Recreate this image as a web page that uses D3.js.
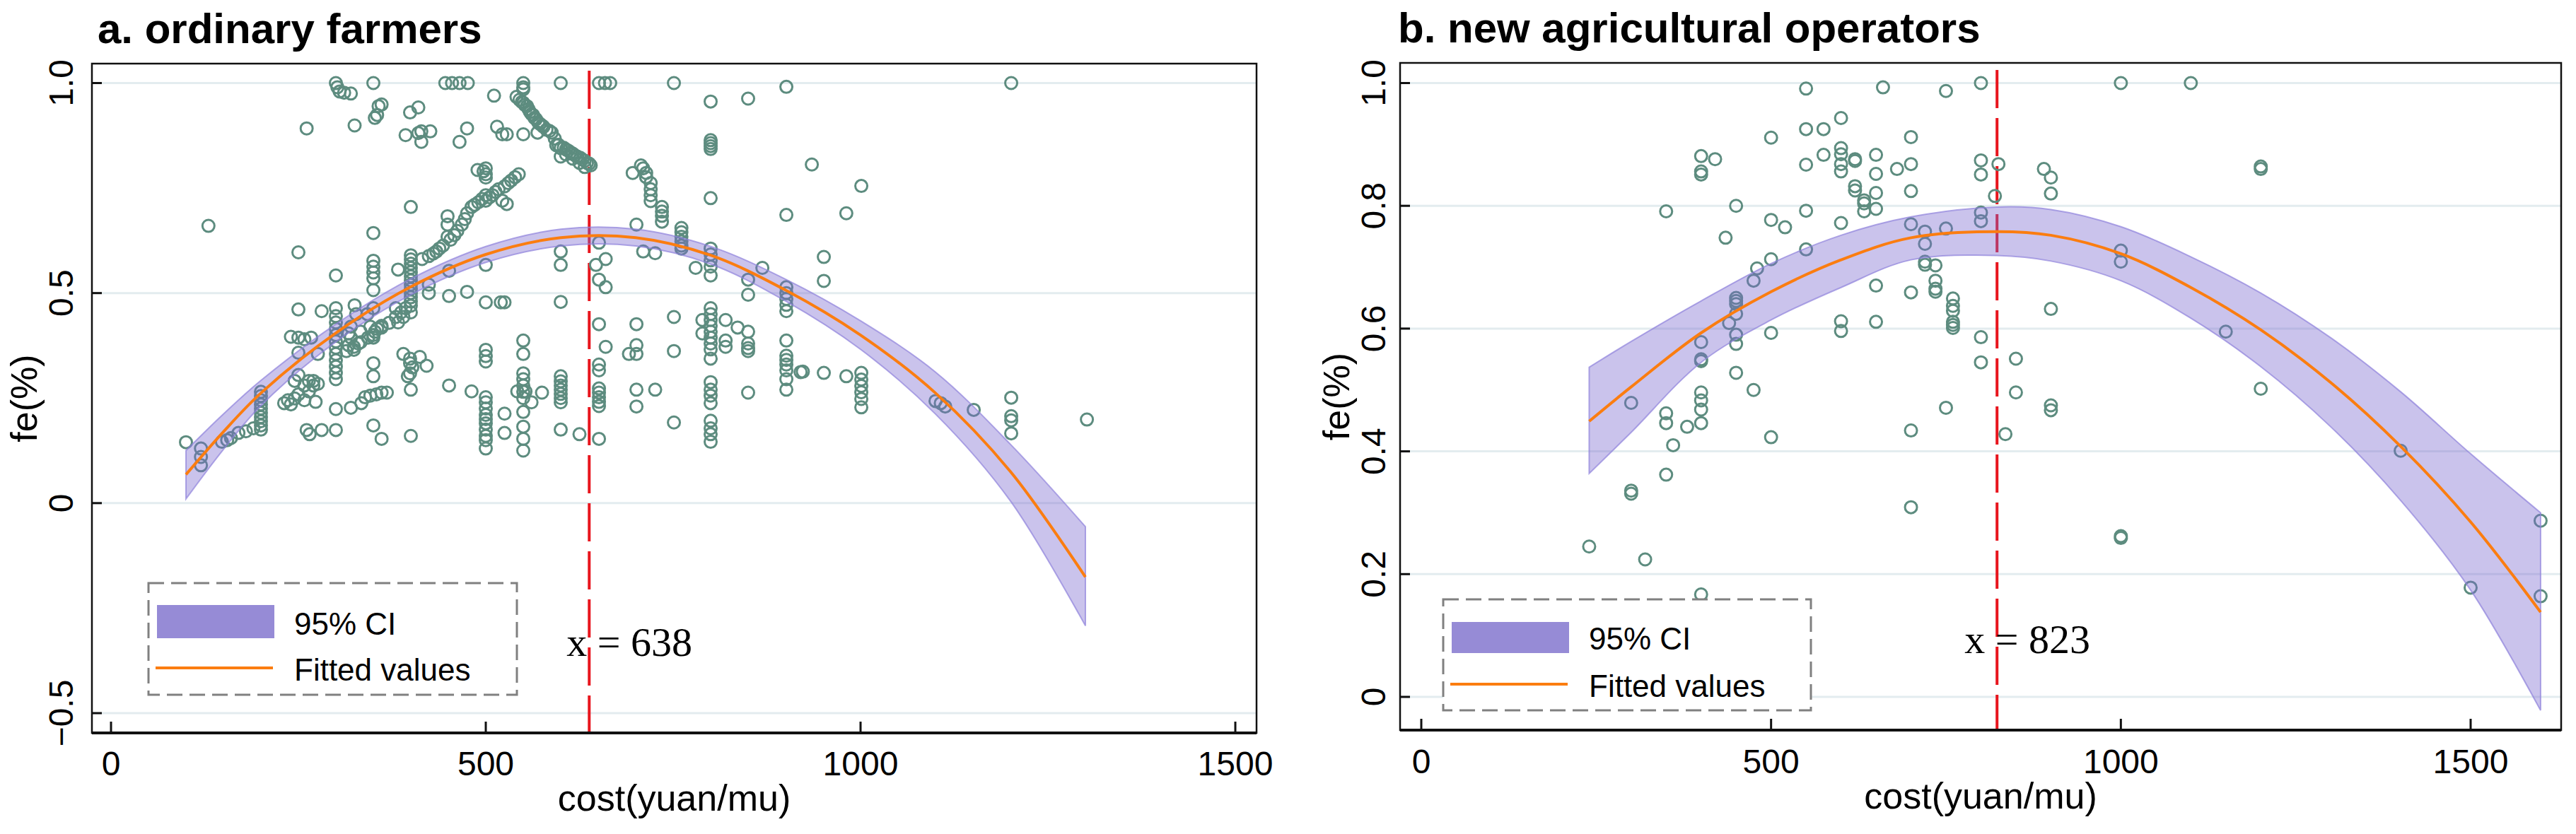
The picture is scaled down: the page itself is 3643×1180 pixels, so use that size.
<!DOCTYPE html>
<html>
<head>
<meta charset="utf-8">
<script src="https://cdn.jsdelivr.net/npm/d3@7"></script>
<style>
body { margin: 0; background: #fff; }
svg { display: block; }
</style>
</head>
<body>
<div id="chart"></div>
<script>
// values
var xTicks = [0, 500, 1000, 1500];
var yTicksA = [-0.5, 0, 0.5, 1];
var yTickLabelsA = ["\u22120.5", "0", "0.5", "1.0"];
var yTicksB = [0, 0.2, 0.4, 0.6, 0.8, 1];
var yTickLabelsB = ["0", "0.2", "0.4", "0.6", "0.8", "1.0"];
var turnA = 638;
var turnB = 823;

// [cost, [fe values at that cost]]
var farmers = [
	[100, [0.145]], [120, [0.13, 0.11, 0.09]], [130, [0.66]], [148, [0.146]], [155, [0.15]],
	[160, [0.155]], [170, [0.167]], [180, [0.171]], [190, [0.178]],
	[200, [0.175, 0.185, 0.195, 0.205, 0.215, 0.225, 0.235, 0.245, 0.255, 0.265]],
	[231, [0.238]], [236, [0.245]], [240, [0.235, 0.396]], [245, [0.249, 0.291]],
	[250, [0.259, 0.305, 0.358, 0.394, 0.461, 0.597]], [258, [0.245, 0.28, 0.39]],
	[261, [0.174, 0.892]], [264, [0.266, 0.291]], [265, [0.164]], [267, [0.394]],
	[270, [0.28, 0.291]], [273, [0.241]], [276, [0.284, 0.355]], [281, [0.174, 0.457]],
	[300, [1.0, 0.542, 0.464, 0.445, 0.43, 0.415, 0.40, 0.385, 0.37, 0.355, 0.34, 0.325, 0.31, 0.295, 0.224, 0.174]],
	[302, [0.99]], [305, [0.98]], [311, [0.977]], [314, [0.362]], [317, [0.404, 0.376]],
	[320, [0.975, 0.394, 0.42, 0.227]], [324, [0.372, 0.365]], [325, [0.899, 0.471]],
	[327, [0.45]], [330, [0.38]], [333, [0.383, 0.408]], [334, [0.238]], [339, [0.252]],
	[342, [0.45]], [343, [0.394]], [346, [0.256, 0.42]],
	[350, [1.0, 0.643, 0.577, 0.563, 0.549, 0.535, 0.507, 0.464, 0.40, 0.394, 0.333, 0.302, 0.185]],
	[352, [0.917, 0.408]], [354, [0.259]], [355, [0.924, 0.415]], [357, [0.945]],
	[361, [0.949, 0.418, 0.422, 0.263, 0.153]], [368, [0.263]], [371, [0.429]],
	[380, [0.443, 0.464]], [383, [0.556, 0.43]], [387, [0.454]], [390, [0.355, 0.443]],
	[393, [0.464, 0.876]], [396, [0.302]], [399, [0.93, 0.344, 0.309, 0.333]],
	[400, [0.705, 0.59, 0.58, 0.57, 0.56, 0.55, 0.54, 0.53, 0.52, 0.51, 0.50, 0.49, 0.48, 0.47, 0.454, 0.27, 0.16]],
	[402, [0.323]], [410, [0.881, 0.942]], [412, [0.348]], [414, [0.86, 0.885]], [415, [0.581]],
	[421, [0.327]], [424, [0.588, 0.52, 0.50]], [426, [0.885]], [430, [0.594]], [434, [0.599]],
	[438, [0.606]], [443, [0.613]], [446, [1.0]], [449, [0.683, 0.663, 0.634]],
	[451, [0.553, 0.493, 0.28]], [453, [0.627]], [455, [1.0]], [458, [0.638]], [462, [0.648]],
	[465, [0.86, 1.0]], [468, [0.663]], [472, [0.676]], [475, [0.69, 0.892, 0.503]], [476, [1.0]],
	[481, [0.705, 0.266]], [485, [0.71]], [489, [0.793]], [490, [0.716]], [495, [0.724]], [497, [0.79]],
	[500, [0.733, 0.775, 0.797, 0.783, 0.72, 0.567, 0.478, 0.365, 0.35, 0.337, 0.252, 0.24, 0.225, 0.21, 0.2, 0.19, 0.175, 0.16, 0.15, 0.13]],
	[505, [0.728]], [509, [0.733]], [511, [0.97]], [513, [0.741]], [515, [0.896]], [517, [0.747]],
	[520, [0.478]], [522, [0.878, 0.72]], [525, [0.754, 0.478, 0.213, 0.167]], [528, [0.878, 0.712]],
	[530, [0.762]], [534, [0.768]], [539, [0.776]], [541, [0.967]], [542, [0.266]], [544, [0.783]],
	[545, [0.96]], [548, [0.955]],
	[550, [1.0, 0.99, 0.985, 0.953, 0.878, 0.387, 0.355, 0.309, 0.295, 0.28, 0.265, 0.25, 0.217, 0.182, 0.153, 0.125]],
	[552, [0.948]], [553, [0.266]], [555, [0.945]], [557, [0.938]], [559, [0.931]], [561, [0.24, 0.926]],
	[563, [0.924]], [565, [0.917]], [567, [0.914]], [569, [0.882]], [570, [0.906]], [572, [0.903]],
	[575, [0.263, 0.899]], [577, [0.896]], [581, [0.889]], [585, [0.886]], [588, [0.882]],
	[592, [0.868]], [594, [0.852]], [597, [0.853]],
	[600, [1.0, 0.845, 0.825, 0.599, 0.567, 0.479, 0.302, 0.29, 0.28, 0.27, 0.26, 0.25, 0.24, 0.175]],
	[604, [0.846]], [607, [0.842, 0.83]], [610, [0.839]], [613, [0.835]], [616, [0.832, 0.82]],
	[619, [0.828]], [622, [0.825]], [625, [0.164, 0.81]], [626, [0.822]], [629, [0.818]],
	[632, [0.815, 0.80]], [635, [0.81]], [638, [0.808]], [640, [0.804]], [647, [0.567]],
	[651, [1.0, 0.62, 0.532, 0.426, 0.33, 0.316, 0.273, 0.263, 0.252, 0.241, 0.231, 0.153]],
	[659, [1.0]], [660, [0.581, 0.514, 0.372]], [666, [1.0]], [691, [0.355]], [696, [0.786]],
	[701, [0.663, 0.426, 0.376, 0.355, 0.27, 0.23]], [707, [0.804]], [710, [0.797, 0.599]],
	[714, [0.786, 0.776]], [720, [0.762, 0.747, 0.733, 0.719]], [726, [0.27, 0.595]],
	[735, [0.705, 0.694, 0.684, 0.67]], [751, [1.0, 0.443, 0.362, 0.192]],
	[761, [0.655, 0.645, 0.634, 0.623, 0.613, 0.606]], [780, [0.56]], [789, [0.436, 0.404]],
	[800, [0.956, 0.864, 0.857, 0.85, 0.843, 0.726, 0.606, 0.592, 0.578, 0.563, 0.542, 0.464, 0.45, 0.436, 0.422, 0.408, 0.394, 0.38, 0.366, 0.344, 0.288, 0.27, 0.256, 0.238, 0.196, 0.178, 0.164, 0.146]],
	[820, [0.436, 0.387, 0.372]], [836, [0.418]],
	[850, [0.963, 0.532, 0.496, 0.408, 0.38, 0.369, 0.362, 0.263]], [869, [0.56]],
	[901, [0.991, 0.686, 0.514, 0.5, 0.486, 0.472, 0.457, 0.387, 0.351, 0.341, 0.33, 0.316, 0.295, 0.27]],
	[920, [0.312]], [923, [0.313]], [935, [0.806]], [951, [0.586, 0.529, 0.31]], [981, [0.69, 0.302]],
	[1001, [0.755, 0.31, 0.294, 0.279, 0.264, 0.248, 0.228]],
	[1100, [0.243]], [1107, [0.238]], [1113, [0.23]], [1151, [0.222]],
	[1201, [1.0, 0.251, 0.207, 0.197, 0.166]], [1302, [0.199]]
];

var operators = [
	[240, [0.245]], [300, [0.479, 0.336, 0.331]], [320, [0.224]], [350, [0.791, 0.462, 0.446, 0.362]],
	[360, [0.41]], [380, [0.44]],
	[400, [0.881, 0.856, 0.851, 0.578, 0.550, 0.547, 0.496, 0.483, 0.468, 0.446, 0.167]],
	[420, [0.876]], [435, [0.748]], [440, [0.609]],
	[450, [0.80, 0.65, 0.645, 0.64, 0.624, 0.59, 0.575, 0.528]],
	[475, [0.678, 0.5]], [480, [0.698]], [500, [0.911, 0.777, 0.713, 0.593, 0.423]], [520, [0.765]],
	[550, [0.991, 0.925, 0.867, 0.792, 0.729]], [575, [0.925, 0.883]],
	[600, [0.943, 0.894, 0.884, 0.868, 0.856, 0.772, 0.612, 0.596]],
	[620, [0.876, 0.873, 0.832, 0.825]], [633, [0.809, 0.804, 0.791]],
	[650, [0.883, 0.852, 0.821, 0.795, 0.67, 0.611]], [660, [0.993]], [680, [0.86]],
	[700, [0.912, 0.868, 0.824, 0.77, 0.659, 0.434, 0.309]], [720, [0.758, 0.738, 0.709, 0.704]],
	[735, [0.703, 0.678, 0.665, 0.66]], [750, [0.987, 0.763, 0.471]],
	[760, [0.649, 0.637, 0.629, 0.611, 0.606, 0.601]],
	[800, [1.0, 0.874, 0.851, 0.789, 0.775, 0.586, 0.545]], [820, [0.816]], [825, [0.868]],
	[835, [0.428]], [850, [0.551, 0.496]], [890, [0.86]], [900, [0.846, 0.82, 0.632, 0.475, 0.467]],
	[1000, [1.0, 0.727, 0.709, 0.262, 0.259]], [1100, [1.0]], [1150, [0.595]],
	[1200, [0.864, 0.86, 0.502]], [1400, [0.401]], [1500, [0.178]], [1600, [0.287, 0.164]]
];

// fitted values and 95% CI
var fitCostA = [100, 150, 200, 300, 400, 500, 600, 700, 800, 900, 1000, 1100, 1200, 1300];
var fitA    = [0.068, 0.17, 0.262, 0.405, 0.515, 0.592, 0.632, 0.632, 0.590, 0.507, 0.400, 0.262, 0.075, -0.176];
var ciLowA  = [0.010, 0.128, 0.232, 0.384, 0.496, 0.573, 0.612, 0.612, 0.569, 0.481, 0.366, 0.212, 0.005, -0.292];
var ciHighA = [0.125, 0.212, 0.292, 0.426, 0.534, 0.611, 0.652, 0.652, 0.611, 0.533, 0.434, 0.312, 0.140, -0.056];

var fitCostB = [240, 300, 400, 500, 600, 700, 823, 900, 1000, 1100, 1200, 1300, 1400, 1500, 1600];
var fitB    = [0.449, 0.505, 0.593, 0.660, 0.712, 0.748, 0.758, 0.752, 0.722, 0.667, 0.598, 0.512, 0.408, 0.285, 0.138];
var ciLowB  = [0.364, 0.431, 0.545, 0.614, 0.667, 0.712, 0.719, 0.710, 0.678, 0.617, 0.538, 0.440, 0.320, 0.174, -0.022];
var ciHighB = [0.537, 0.579, 0.645, 0.706, 0.752, 0.782, 0.798, 0.794, 0.766, 0.717, 0.658, 0.585, 0.497, 0.396, 0.300];

var sans = "'Liberation Sans', Arial, sans-serif";
var serif = "'Liberation Serif', 'Times New Roman', serif";

var svg = d3.select("#chart").append("svg")
	.attr("width", 3643)
	.attr("height", 1180);

function drawPanel(p) {
	var x = d3.scaleLinear().domain([0, 1500]).range(p.xRange);
	var y = d3.scaleLinear().domain(p.yDomain).range(p.yRange);
	var g = svg.append("g");

	// grid
	g.selectAll(".grid").data(p.yTicks).enter().append("line")
		.attr("x1", p.left).attr("x2", p.right)
		.attr("y1", function(d) { return y(d); })
		.attr("y2", function(d) { return y(d); })
		.attr("stroke", "#e3ecef")
		.attr("stroke-width", 3);

	// turning point
	g.append("line")
		.attr("x1", x(p.turn)).attr("x2", x(p.turn))
		.attr("y1", p.top + 10).attr("y2", p.bottom)
		.attr("stroke", "#e8151d")
		.attr("stroke-width", 4)
		.attr("stroke-dasharray", "54,14");

	// scatter
	var pts = [];
	p.points.forEach(function(d) {
		d[1].forEach(function(v) { pts.push([d[0], v]); });
	});
	g.selectAll(".pt").data(pts).enter().append("circle")
		.attr("cx", function(d) { return x(d[0]); })
		.attr("cy", function(d) { return y(d[1]); })
		.attr("r", 8.5)
		.attr("fill", "none")
		.attr("stroke", "#5d8c7f")
		.attr("stroke-width", 3);

	// CI band + fit
	var band = p.fitCost.map(function(c, i) {
		return { c: c, f: p.fit[i], lo: p.lo[i], hi: p.hi[i] };
	});
	var area = d3.area()
		.x(function(d) { return x(d.c); })
		.y0(function(d) { return y(d.lo); })
		.y1(function(d) { return y(d.hi); })
		.curve(d3.curveCatmullRom);
	g.append("path").datum(band)
		.attr("d", area)
		.attr("fill", "#7b68d0")
		.attr("fill-opacity", 0.4)
		.attr("stroke", "#8f82dc")
		.attr("stroke-opacity", 0.7)
		.attr("stroke-width", 2);
	var line = d3.line()
		.x(function(d) { return x(d.c); })
		.y(function(d) { return y(d.f); })
		.curve(d3.curveCatmullRom);
	g.append("path").datum(band)
		.attr("d", line)
		.attr("fill", "none")
		.attr("stroke", "#fb7d10")
		.attr("stroke-width", 4);

	// frame
	g.append("rect")
		.attr("x", p.left).attr("y", p.top)
		.attr("width", p.right - p.left).attr("height", p.bottom - p.top)
		.attr("fill", "none")
		.attr("stroke", "#111")
		.attr("stroke-width", 2.5);
	g.append("line")
		.attr("x1", p.left).attr("x2", p.right)
		.attr("y1", p.bottom).attr("y2", p.bottom)
		.attr("stroke", "#111")
		.attr("stroke-width", 4);

	// ticks
	g.selectAll(".xt").data(xTicks).enter().append("line")
		.attr("x1", function(d) { return x(d); })
		.attr("x2", function(d) { return x(d); })
		.attr("y1", p.bottom).attr("y2", p.bottom - 16)
		.attr("stroke", "#111").attr("stroke-width", 3);
	g.selectAll(".yt").data(p.yTicks).enter().append("line")
		.attr("x1", p.left).attr("x2", p.left + 14)
		.attr("y1", function(d) { return y(d); })
		.attr("y2", function(d) { return y(d); })
		.attr("stroke", "#111").attr("stroke-width", 3);

	g.selectAll(".xl").data(xTicks).enter().append("text")
		.attr("x", function(d) { return x(d); })
		.attr("y", p.xLabelY)
		.attr("text-anchor", "middle")
		.attr("font-family", sans)
		.attr("font-size", 48)
		.text(function(d) { return d; });
	g.selectAll(".yl").data(p.yTicks).enter().append("text")
		.attr("transform", function(d) { return "translate(" + p.yLabelX + "," + y(d) + ") rotate(-90)"; })
		.attr("text-anchor", "middle")
		.attr("dominant-baseline", "central")
		.attr("font-family", sans)
		.attr("font-size", 48)
		.text(function(d, i) { return p.yLabels[i]; });

	// axis titles
	g.append("text")
		.attr("x", (p.left + p.right) / 2)
		.attr("y", p.xTitleY)
		.attr("text-anchor", "middle")
		.attr("font-family", sans)
		.attr("font-size", 52)
		.text("cost(yuan/mu)");
	g.append("text")
		.attr("transform", "translate(" + p.yTitleX + "," + (p.top + p.bottom) / 2 + ") rotate(-90)")
		.attr("text-anchor", "middle")
		.attr("dominant-baseline", "central")
		.attr("font-family", sans)
		.attr("font-size", 52)
		.text("fe(%)");

	// panel title
	g.append("text")
		.attr("x", p.titleX).attr("y", p.titleY)
		.attr("font-family", sans)
		.attr("font-weight", "bold")
		.attr("font-size", 60)
		.text(p.title);

	// legend
	var L = p.legend;
	g.append("rect")
		.attr("x", L.x).attr("y", L.y).attr("width", L.w).attr("height", L.h)
		.attr("fill", "#fff")
		.attr("stroke", "#808080")
		.attr("stroke-width", 3)
		.attr("stroke-dasharray", "22,10");
	g.append("rect")
		.attr("x", L.x + 12).attr("y", L.swY).attr("width", 166).attr("height", L.swH)
		.attr("fill", "#968bd6");
	g.append("line")
		.attr("x1", L.x + 10).attr("x2", L.x + 176)
		.attr("y1", L.lineY).attr("y2", L.lineY)
		.attr("stroke", "#fb7d10").attr("stroke-width", 4);
	g.append("text")
		.attr("x", L.x + 206).attr("y", L.t1)
		.attr("font-family", sans).attr("font-size", 44)
		.text("95% CI");
	g.append("text")
		.attr("x", L.x + 206).attr("y", L.t2)
		.attr("font-family", sans).attr("font-size", 44)
		.text("Fitted values");

	// turning point label
	g.append("text")
		.attr("x", x(p.turn) - p.noteDx).attr("y", p.noteY)
		.attr("font-family", serif)
		.attr("font-size", 58)
		.text("x = " + p.turn);
}

drawPanel({
	title: "a. ordinary farmers",
	titleX: 138, titleY: 61,
	left: 130, right: 1777, top: 90, bottom: 1037,
	xRange: [157, 1747],
	yDomain: [-0.5, 1], yRange: [1009, 117.5],
	yTicks: yTicksA, yLabels: yTickLabelsA,
	yLabelX: 86, yTitleX: 34, xLabelY: 1097, xTitleY: 1147,
	points: farmers,
	fitCost: fitCostA, fit: fitA, lo: ciLowA, hi: ciHighA,
	turn: turnA, noteDx: 32, noteY: 928,
	legend: { x: 210, y: 825, w: 521, h: 158, swY: 856, swH: 47, lineY: 945, t1: 898, t2: 963 }
});

drawPanel({
	title: "b. new agricultural operators",
	titleX: 1977, titleY: 60,
	left: 1980, right: 3622, top: 89, bottom: 1033,
	xRange: [2010, 3494],
	yDomain: [0, 1], yRange: [986, 117.5],
	yTicks: yTicksB, yLabels: yTickLabelsB,
	yLabelX: 1942, yTitleX: 1890, xLabelY: 1094, xTitleY: 1144,
	points: operators,
	fitCost: fitCostB, fit: fitB, lo: ciLowB, hi: ciHighB,
	turn: turnB, noteDx: 46, noteY: 924,
	legend: { x: 2041, y: 848, w: 520, h: 157, swY: 880, swH: 44, lineY: 968, t1: 919, t2: 986 }
});
</script>
</body>
</html>
